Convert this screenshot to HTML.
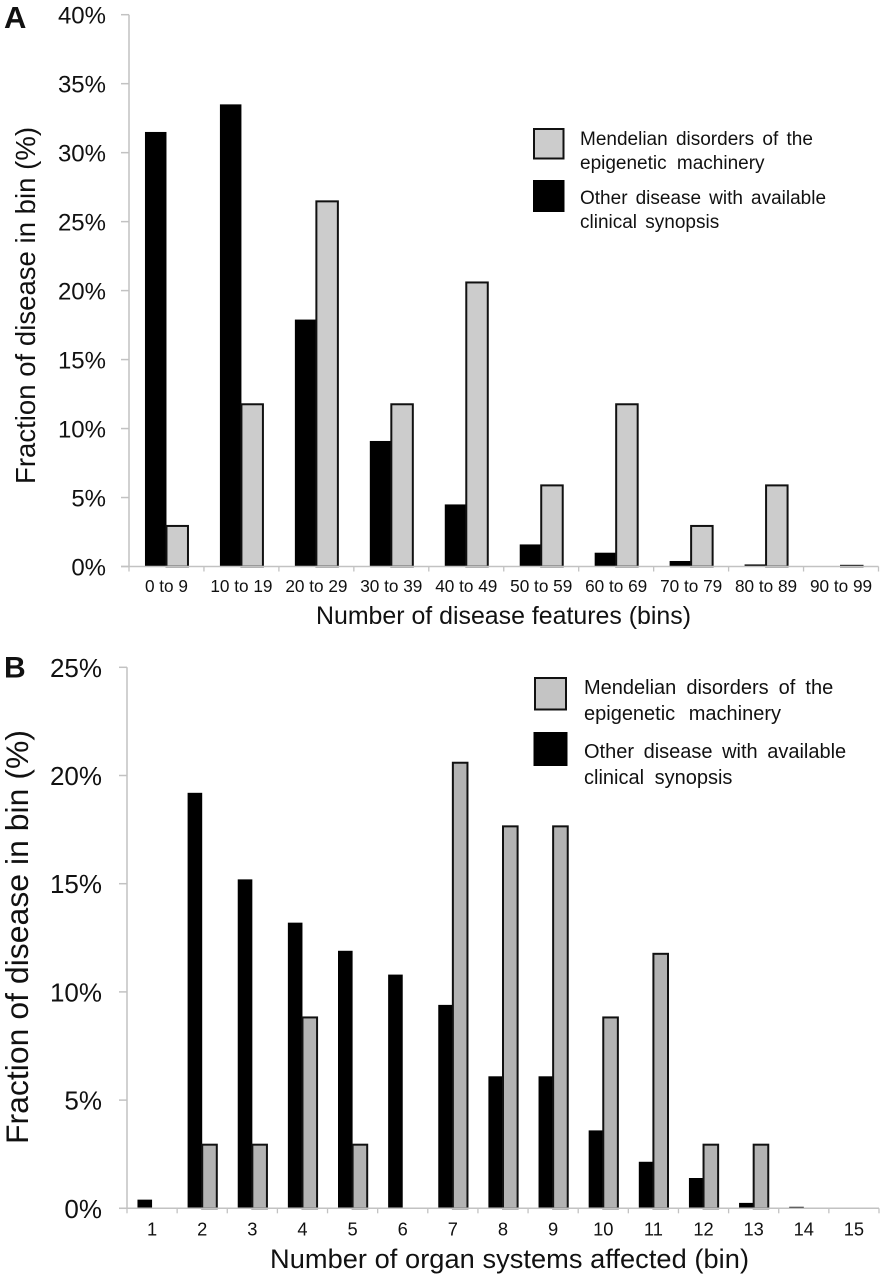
<!DOCTYPE html>
<html>
<head>
<meta charset="utf-8">
<title>Disease feature distribution charts</title>
<style>
html,body{margin:0;padding:0;background:#fff;width:881px;height:1280px;overflow:hidden}
svg{display:block}
text{font-family:"Liberation Sans",Arial,sans-serif;fill:#111}
</style>
</head>
<body>
<svg id="figure" width="881" height="1280" viewBox="0 0 881 1280" xmlns="http://www.w3.org/2000/svg">
  <text x="4" y="28" font-size="31" font-weight="bold" fill="#000">A</text>
  <text x="4" y="677.5" font-size="30" font-weight="bold" fill="#000">B</text>
  <g id="chartA"></g>
  <g id="chartB"></g>

  <g>
    <rect x="534" y="129" width="29.5" height="29.5" fill="#cccccc" stroke="#111" stroke-width="2"/>
    <text x="580" font-size="19"><tspan x="580" y="145" word-spacing="3">Mendelian disorders of the</tspan><tspan x="580" y="169" word-spacing="5">epigenetic machinery</tspan></text>
    <rect x="533" y="180" width="31.5" height="32" fill="#000"/>
    <text x="580" font-size="19"><tspan x="580" y="204" word-spacing="2.8">Other disease with available</tspan><tspan x="580" y="228" word-spacing="3">clinical synopsis</tspan></text>
  </g>
  <g>
    <rect x="535" y="678" width="31" height="31.5" fill="#c4c4c4" stroke="#111" stroke-width="2"/>
    <text x="584" font-size="20"><tspan x="584" y="694" word-spacing="4.5">Mendelian disorders of the</tspan><tspan x="584" y="720" word-spacing="8">epigenetic machinery</tspan></text>
    <rect x="533.5" y="732" width="34" height="34" fill="#000"/>
    <text x="584" font-size="20"><tspan x="584" y="758" word-spacing="4">Other disease with available</tspan><tspan x="584" y="784" word-spacing="5">clinical synopsis</tspan></text>
  </g>
</svg>
<script>
var categoriesA = ["0 to 9","10 to 19","20 to 29","30 to 39","40 to 49","50 to 59","60 to 69","70 to 79","80 to 89","90 to 99"];
var otherDiseaseA = [31.5,33.5,17.9,9.1,4.5,1.6,1.0,0.4,0.15,0];
var mendelianA = [2.94,11.76,26.47,11.76,20.59,5.88,11.76,2.94,5.88,0.05];
var tickValuesA = [0,5,10,15,20,25,30,35,40];

var categoriesB = ["1","2","3","4","5","6","7","8","9","10","11","12","13","14","15"];
var otherDiseaseB = [0.4,19.2,15.2,13.2,11.9,10.8,9.4,6.1,6.1,3.6,2.15,1.4,0.25,0.07,0.02];
var mendelianB = [0,2.94,2.94,8.82,2.94,0,20.59,17.65,17.65,8.82,11.76,2.94,2.94,0,0];
var tickValuesB = [0,5,10,15,20,25];

var SVG_NS = "http://www.w3.org/2000/svg";

function make(parent, tag, attrs, text) {
  var el = document.createElementNS(SVG_NS, tag);
  for (var k in attrs) el.setAttribute(k, attrs[k]);
  if (text !== undefined) el.textContent = text;
  parent.appendChild(el);
  return el;
}

function drawChart(cfg) {
  var g = document.getElementById(cfg.id);
  var n = cfg.categories.length;
  var maxV = cfg.ticks[cfg.ticks.length - 1];
  function y(v) { return cfg.y0 - (v / maxV) * (cfg.y0 - cfg.yTop); }
  function x(i) { return cfg.x0 + (i / n) * (cfg.x1 - cfg.x0); }
  var step = (cfg.x1 - cfg.x0) / n;

  var axisY = make(g, "line", {x1: cfg.x0, x2: cfg.x0, y1: cfg.yTop, y2: cfg.y0, stroke: "#c2c2c2", "stroke-width": 1.5});
  
  

  cfg.ticks.forEach(function (t) {
    var tick = make(g, "line", {x1: cfg.x0 - 8, x2: cfg.x0, y1: y(t), y2: y(t), stroke: "#c2c2c2", "stroke-width": 1.5});
    
    
    var lab = make(g, "text", {x: cfg.yLabelX, y: y(t) + cfg.yLabelDy, "text-anchor": "end", "font-size": cfg.yLabelSize}, t + "%");
    
    
  });

  for (var i = 0; i < n; i++) {
    var cx = x(i) + step / 2;
    var oh = cfg.other[i], mh = cfg.mendelian[i];
    if (oh > 0) {
      var ob = make(g, "rect", {x: cx - cfg.barW, y: y(oh), width: cfg.barW, height: cfg.y0 - y(oh), fill: "#000"});
      
      
    }
    if (mh > 0) {
      var mb = make(g, "rect", {x: cx, y: y(mh), width: cfg.barW, height: cfg.y0 - y(mh), fill: cfg.gray, stroke: "#111", "stroke-width": 2});
      
      
    }
  }

  var axisX = make(g, "line", {x1: cfg.x0 - 8, x2: cfg.x1, y1: cfg.y0, y2: cfg.y0, stroke: "#c2c2c2", "stroke-width": 1.5});
  
  

  for (var j = 0; j <= n; j++) {
    var xt = make(g, "line", {x1: x(j), x2: x(j), y1: cfg.y0, y2: cfg.y0 + 5, stroke: "#c2c2c2", "stroke-width": 1.3});
    
    
  }
  cfg.categories.forEach(function (c, i) {
    var lab = make(g, "text", {x: x(i) + step / 2, y: cfg.xLabelY, "text-anchor": "middle", "font-size": cfg.xLabelSize}, c);
    
    
  });

  var xt2 = make(g, "text", {x: cfg.xTitleX, y: cfg.xTitleY, "font-size": cfg.xTitleSize, textLength: cfg.xTitleLen}, cfg.xTitle);
  
  

  var yt2 = make(g, "text", {transform: "translate(" + cfg.yTitleX + "," + cfg.yTitleY + ") rotate(-90)", "font-size": cfg.yTitleSize, textLength: cfg.yTitleLen}, cfg.yTitle);
  
  
}

drawChart({
  id: "chartA", prefix: "chart-a",
  categories: categoriesA, other: otherDiseaseA, mendelian: mendelianA, ticks: tickValuesA,
  x0: 129, x1: 878.5, y0: 566.5, yTop: 14.7, barW: 21.5, gray: "#cccccc",
  yLabelX: 106, yLabelDy: 9, yLabelSize: 24,
  xLabelY: 592, xLabelSize: 17.2,
  xTitle: "Number of disease features (bins)", xTitleX: 316, xTitleY: 624, xTitleLen: 375, xTitleSize: 24.9,
  yTitle: "Fraction of disease in bin (%)", yTitleX: 35, yTitleY: 484, yTitleLen: 357, yTitleSize: 27.5
});

drawChart({
  id: "chartB", prefix: "chart-b",
  categories: categoriesB, other: otherDiseaseB, mendelian: mendelianB, ticks: tickValuesB,
  x0: 127, x1: 879, y0: 1208.3, yTop: 667.3, barW: 14.6, gray: "#b3b3b3",
  yLabelX: 102, yLabelDy: 9.5, yLabelSize: 26,
  xLabelY: 1235.5, xLabelSize: 18.3,
  xTitle: "Number of organ systems affected (bin)", xTitleX: 270, xTitleY: 1268, xTitleLen: 479, xTitleSize: 27.2,
  yTitle: "Fraction of disease in bin (%)", yTitleX: 28, yTitleY: 1144, yTitleLen: 414, yTitleSize: 31.9
});
</script>
</body>
</html>
